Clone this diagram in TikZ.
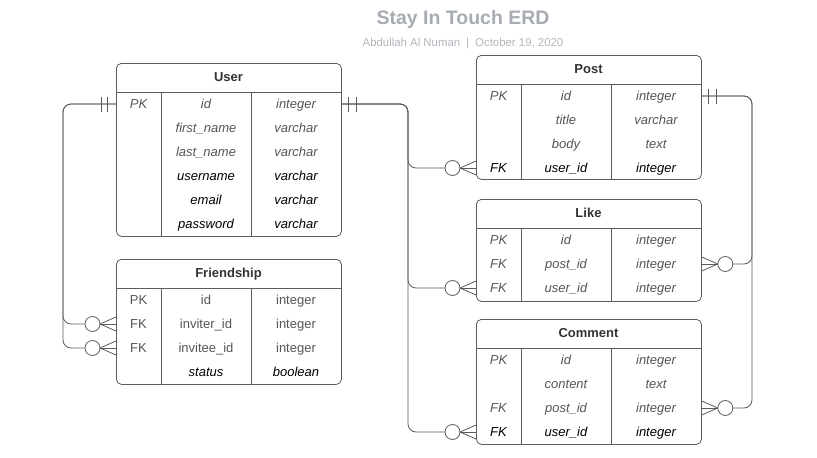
\documentclass[tikz,border=0pt]{standalone}
\usepackage{fontspec}
\setmainfont{Liberation Sans}
\usetikzlibrary{calc}
\definecolor{linegrey}{HTML}{5C5C5C}
\definecolor{textgrey}{HTML}{555555}
\definecolor{hdrgrey}{HTML}{333333}
\definecolor{titlegrey}{HTML}{A7ABB2}
\definecolor{subgrey}{HTML}{B2B5BB}
\tikzset{
  tablebox/.style={draw=linegrey, line width=0.8pt, rounded corners=5pt, anchor=north west,
    minimum width=225pt, inner sep=0pt},
  grid/.style={draw=linegrey, line width=0.8pt},
  link/.style={draw=linegrey, line width=0.8pt, rounded corners=8pt},
  foot/.style={draw=linegrey, line width=0.8pt},
  zero/.style={circle, draw=linegrey, line width=0.8pt, fill=white, minimum size=15pt, inner sep=0pt},
  cell/.style={inner sep=0pt, text height=9.3pt, text depth=0pt, font=\fontsize{13}{15}\selectfont},
  gi/.style={cell, text=textgrey, font=\fontsize{13}{15}\selectfont\itshape},
  bi/.style={cell, text=black, font=\fontsize{13}{15}\selectfont\itshape},
  gu/.style={cell, text=textgrey},
  hdr/.style={cell, text=hdrgrey, font=\fontsize{13}{15}\selectfont\bfseries}
}
% header line and the two column lines of a table
\newcommand{\tableframe}[1]{%
  \draw[grid] ([yshift=-29pt]#1.north west) -- ([yshift=-29pt]#1.north east);
  \draw[grid] ([shift={(45pt,-29pt)}]#1.north west) -- ([xshift=45pt]#1.south west);
  \draw[grid] ([shift={(135pt,-29pt)}]#1.north west) -- ([xshift=135pt]#1.south west);}
% two bars of a "one" end, at offsets #2 and #3 from #1
\newcommand{\onemark}[3]{%
  \draw[foot] ($(#1)+(#2,-7.5)$) -- ++(0,15);
  \draw[foot] ($(#1)+(#3,-7.5)$) -- ++(0,15);}
% crow's foot with circle: #1 edge point, #2 side (-1 / 1), #3 circle name
\newcommand{\zeromany}[3]{%
  \coordinate (#3-tip) at ($(#1)+(#2*16,0)$);
  \draw[foot] (#1) -- (#3-tip);
  \draw[foot] ($(#1)+(0,-7)$) -- (#3-tip) -- ($(#1)+(0,7)$);
  \node[zero] (#3) at ($(#3-tip)+(#2*7.5,0)$) {};}

\begin{document}
\begin{tikzpicture}[x=1pt,y=-1pt]
  \useasboundingbox (0,0) rectangle (817,458);

  % Title
  \node[text=titlegrey, inner sep=0pt, text height=14pt, text depth=0pt,
    font=\fontsize{19.5}{22}\selectfont\bfseries] (title) at (463,17) {Stay In Touch ERD};
  \node[text=subgrey, inner sep=0pt, text height=8.2pt, text depth=0pt,
    font=\fontsize{11.4}{13}\selectfont] (subtitle) at (463,42)
    {Abdullah Al Numan\hspace{6pt}|\hspace{6pt}October 19, 2020};

  % Tables
  \node[tablebox, minimum height=173pt] (user) at (116,63) {};
  \node[tablebox, minimum height=125pt] (friend) at (116,259) {};
  \node[tablebox, minimum height=124pt] (post) at (476,55) {};
  \node[tablebox, minimum height=102pt] (like) at (476,199) {};
  \node[tablebox, minimum height=125pt] (comment) at (476,319) {};
  \tableframe{user}
  \tableframe{friend}
  \tableframe{post}
  \tableframe{like}
  \tableframe{comment}

  % User
  \node[hdr] (user-h) at (228.5,76.5) {User};
  \node[gi] (user-k1) at (138.5,104) {PK}; \node[gi] (user-id) at (206,104) {id}; \node[gi] (user-t1) at (296,104) {integer};
  \node[gi] (user-fn) at (206,128) {first\_name}; \node[gi] (user-t2) at (296,128) {varchar};
  \node[gi] (user-ln) at (206,152) {last\_name}; \node[gi] (user-t3) at (296,152) {varchar};
  \node[bi] (user-un) at (206,176) {username}; \node[bi] (user-t4) at (296,176) {varchar};
  \node[bi] (user-em) at (206,200) {email}; \node[bi] (user-t5) at (296,200) {varchar};
  \node[bi] (user-pw) at (206,224) {password}; \node[bi] (user-t6) at (296,224) {varchar};

  % Friendship
  \node[hdr] (friend-h) at (228.5,272.5) {Friendship};
  \node[gu] (friend-k1) at (138.5,300) {PK}; \node[gu] (friend-id) at (206,300) {id}; \node[gu] (friend-t1) at (296,300) {integer};
  \node[gu] (friend-k2) at (138.5,324) {FK}; \node[gu] (friend-inviter) at (206,324) {inviter\_id}; \node[gu] (friend-t2) at (296,324) {integer};
  \node[gu] (friend-k3) at (138.5,348) {FK}; \node[gu] (friend-invitee) at (206,348) {invitee\_id}; \node[gu] (friend-t3) at (296,348) {integer};
  \node[bi] (friend-st) at (206,372) {status}; \node[bi] (friend-t4) at (296,372) {boolean};

  % Post
  \node[hdr] (post-h) at (588.5,68.5) {Post};
  \node[gi] (post-k1) at (498.5,96) {PK}; \node[gi] (post-id) at (566,96) {id}; \node[gi] (post-t1) at (656,96) {integer};
  \node[gi] (post-ti) at (566,120) {title}; \node[gi] (post-t2) at (656,120) {varchar};
  \node[gi] (post-bo) at (566,144) {body}; \node[gi] (post-t3) at (656,144) {text};
  \node[bi] (post-k4) at (498.5,168) {FK}; \node[bi] (post-uid) at (566,168) {user\_id}; \node[bi] (post-t4) at (656,168) {integer};

  % Like
  \node[hdr] (like-h) at (588.5,212.5) {Like};
  \node[gi] (like-k1) at (498.5,240) {PK}; \node[gi] (like-id) at (566,240) {id}; \node[gi] (like-t1) at (656,240) {integer};
  \node[gi] (like-k2) at (498.5,264) {FK}; \node[gi] (like-pid) at (566,264) {post\_id}; \node[gi] (like-t2) at (656,264) {integer};
  \node[gi] (like-k3) at (498.5,288) {FK}; \node[gi] (like-uid) at (566,288) {user\_id}; \node[gi] (like-t3) at (656,288) {integer};

  % Comment
  \node[hdr] (comment-h) at (588.5,332.5) {Comment};
  \node[gi] (comment-k1) at (498.5,360) {PK}; \node[gi] (comment-id) at (566,360) {id}; \node[gi] (comment-t1) at (656,360) {integer};
  \node[gi] (comment-co) at (566,384) {content}; \node[gi] (comment-t2) at (656,384) {text};
  \node[gi] (comment-k3) at (498.5,408) {FK}; \node[gi] (comment-pid) at (566,408) {post\_id}; \node[gi] (comment-t3) at (656,408) {integer};
  \node[bi] (comment-k4) at (498.5,432) {FK}; \node[bi] (comment-uid) at (566,432) {user\_id}; \node[bi] (comment-t4) at (656,432) {integer};

  % Edge points
  \coordinate (U1r) at (user-id -| user.east);
  \coordinate (U1l) at (user-id -| user.west);
  \coordinate (P1r) at (post-id -| post.east);
  \coordinate (busU) at (408,104);
  \coordinate (busF) at (63,104);
  \coordinate (busP) at (752,96);

  \zeromany{post-uid -| post.west}{-1}{zpost}
  \zeromany{like-uid -| like.west}{-1}{zlikeu}
  \zeromany{comment-uid -| comment.west}{-1}{zcommu}
  \zeromany{friend-inviter -| friend.west}{-1}{zinviter}
  \zeromany{friend-invitee -| friend.west}{-1}{zinvitee}
  \zeromany{like-pid -| like.east}{1}{zlikep}
  \zeromany{comment-pid -| comment.east}{1}{zcommp}

  % User -> Post, Like, Comment
  \draw[link] (U1r) -- (busU) |- (zpost.west);
  \draw[link] (U1r) -- (busU) |- (zlikeu.west);
  \draw[link] (U1r) -- (busU) |- (zcommu.west);
  \onemark{U1r}{7}{15}

  % User -> Friendship
  \draw[link] (U1l) -- (busF) |- (zinviter.west);
  \draw[link] (U1l) -- (busF) |- (zinvitee.west);
  \onemark{U1l}{-9}{-15}

  % Post -> Like, Comment
  \draw[link] (P1r) -- (busP) |- (zlikep.east);
  \draw[link] (P1r) -- (busP) |- (zcommp.east);
  \onemark{P1r}{6.5}{14.5}
\end{tikzpicture}
\end{document}
